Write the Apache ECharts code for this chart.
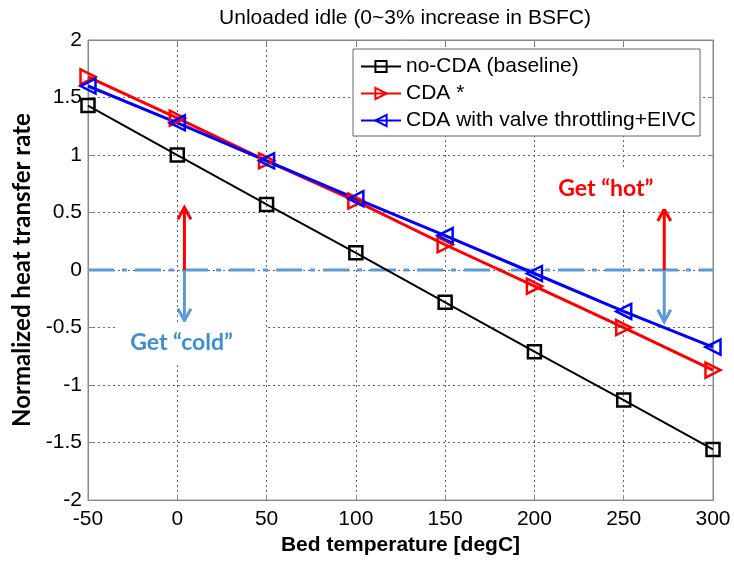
<!DOCTYPE html>
<html>
<head>
<meta charset="utf-8">
<script src="https://cdn.jsdelivr.net/npm/echarts@6/dist/echarts.min.js"></script>
<style>
  html, body { margin: 0; padding: 0; background: #fff; }
  #chart { width: 734px; height: 561px; }
</style>
</head>
<body>
<div id="chart"></div>
<script>
// Bed temperature sweep [degC]
const temps = [-50, 0, 50, 100, 150, 200, 250, 300];
// Normalized heat transfer rate for each strategy
const baseline = [1.43, 1.00, 0.57, 0.15, -0.28, -0.71, -1.13, -1.56];
const cda = [1.68, 1.32, 0.95, 0.60, 0.22, -0.14, -0.50, -0.87];
const cdaThrottle = [1.60, 1.28, 0.95, 0.62, 0.30, -0.03, -0.36, -0.67];

const seriesNames = ['no-CDA (baseline)', 'CDA *', 'CDA with valve throttling+EIVC'];
const xTicks = [-50, 0, 50, 100, 150, 200, 250, 300];
const yTicks = [-2, -1.5, -1, -0.5, 0, 0.5, 1, 1.5, 2];

// Annotation arrows: bed temperature, and where the up / down arrow ends
const arrowTemps = [4, 272.7];
const hotTips = [0.545, 0.53];
const coldTips = [-0.44, -0.45];

// Annotation captions: [temperature, rate, text]
const notes = [
  [8, -0.63, 'Get “cold”'],
  [240, 0.71, 'Get “hot”']
];

const pairs = (vals) => temps.map((t, i) => [t, vals[i]]);

const ARIAL = "'Liberation Sans', Arial, Helvetica, sans-serif";
const CALIBRI = "Lato, 'Open Sans', sans-serif";

const chart = echarts.init(document.getElementById('chart'), null, { renderer: 'canvas' });

function arrowSeries(tips, color) {
  return {
    type: 'custom',
    silent: true,
    z: 4,
    data: arrowTemps.map((t, i) => [t, tips[i]]),
    renderItem: function (params, api) {
      const base = api.coord([api.value(0), 0]);
      const tip = api.coord([api.value(0), api.value(1)]);
      const dir = tip[1] < base[1] ? 1 : -1; // 1 when pointing up
      const hw = 6.5, hl = 12;
      return {
        type: 'group',
        children: [
          { type: 'polyline', shape: { points: [base, tip] },
            style: { stroke: color, lineWidth: 3, fill: null } },
          { type: 'polyline',
            shape: { points: [[tip[0] - hw, tip[1] + dir * hl], tip, [tip[0] + hw, tip[1] + dir * hl]] },
            style: { stroke: color, lineWidth: 3, fill: null, lineJoin: 'miter' } }
        ]
      };
    }
  };
}

const frameLine = { onZero: false, lineStyle: { color: '#888', width: 1 } };
const frameTick = { show: true, inside: true, length: 5, lineStyle: { color: '#888' } };
const gridDots = { show: true, lineStyle: { color: '#666', width: 1, type: [2, 3] } };

const option = {
  backgroundColor: '#fff',
  animation: false,
  title: {
    text: 'Unloaded idle (0~3% increase in BSFC)',
    left: 400,
    textAlign: 'center',
    top: 3,
    textStyle: { fontFamily: ARIAL, fontSize: 21, fontWeight: 'normal', color: '#000' }
  },
  grid: { left: 88, right: 21, top: 40, bottom: 59, show: true, borderColor: '#888', borderWidth: 1 },
  legend: {
    orient: 'vertical',
    left: 353,
    top: 49,
    padding: [7, 4, 5, 7],
    itemGap: 6,
    itemWidth: 40,
    itemHeight: 14,
    backgroundColor: '#fff',
    borderColor: '#666',
    borderWidth: 1,
    borderRadius: 0,
    data: seriesNames,
    textStyle: { fontFamily: ARIAL, fontSize: 21, lineHeight: 21, color: '#000' }
  },
  xAxis: [{
    type: 'value',
    min: xTicks[0], max: xTicks[xTicks.length - 1], interval: 50,
    name: 'Bed temperature [degC]',
    nameLocation: 'middle',
    nameGap: 32,
    nameTextStyle: { fontFamily: ARIAL, fontSize: 21, fontWeight: 'bold', color: '#000' },
    axisLine: frameLine,
    axisTick: frameTick,
    axisLabel: { margin: 9, fontFamily: ARIAL, fontSize: 21, color: '#000' },
    splitLine: gridDots
  }, {
    type: 'value', position: 'top',
    min: xTicks[0], max: xTicks[xTicks.length - 1], interval: 50,
    axisLine: frameLine,
    axisTick: frameTick,
    axisLabel: { show: false },
    splitLine: { show: false }
  }],
  yAxis: [{
    type: 'value',
    min: yTicks[0], max: yTicks[yTicks.length - 1], interval: 0.5,
    name: 'Normalized heat transfer rate',
    nameLocation: 'middle',
    nameGap: 54,
    nameTextStyle: { fontFamily: CALIBRI, fontSize: 24, fontWeight: 'bold', color: '#000' },
    axisLine: Object.assign({ show: true }, frameLine),
    axisTick: frameTick,
    axisLabel: { margin: 6, fontFamily: ARIAL, fontSize: 21, color: '#000' },
    splitLine: gridDots
  }, {
    type: 'value', position: 'right',
    min: yTicks[0], max: yTicks[yTicks.length - 1], interval: 0.5,
    axisLine: Object.assign({ show: true }, frameLine),
    axisTick: frameTick,
    axisLabel: { show: false },
    splitLine: { show: false }
  }],
  series: [
    {
      // zero heat transfer reference
      type: 'line',
      silent: true,
      z: 1,
      symbol: 'none',
      data: [[xTicks[0], 0], [xTicks[xTicks.length - 1], 0]],
      lineStyle: { color: '#5b9bd5', width: 3, type: [26, 8, 5, 8] }
    },
    {
      name: seriesNames[0],
      type: 'line',
      z: 3,
      data: pairs(baseline),
      symbol: 'rect',
      symbolSize: 13,
      showAllSymbol: true,
      lineStyle: { color: '#000', width: 2 },
      itemStyle: { color: 'rgba(255,255,255,0)', borderColor: '#000', borderWidth: 2.5 }
    },
    {
      name: seriesNames[1],
      type: 'line',
      z: 3,
      data: pairs(cda),
      symbol: 'path://M0,0 L10,5 L0,10 Z',
      symbolSize: 15,
      lineStyle: { color: '#ff0000', width: 3 },
      itemStyle: { color: 'rgba(255,255,255,0)', borderColor: '#ff0000', borderWidth: 2.5 }
    },
    {
      name: seriesNames[2],
      type: 'line',
      z: 3,
      data: pairs(cdaThrottle),
      symbol: 'path://M10,0 L0,5 L10,10 Z',
      symbolSize: 15,
      lineStyle: { color: '#0000ff', width: 3 },
      itemStyle: { color: 'rgba(255,255,255,0)', borderColor: '#0000ff', borderWidth: 2.5 }
    },
    arrowSeries(hotTips, '#ff0000'),
    arrowSeries(coldTips, '#5b9bd5'),
    {
      type: 'custom',
      silent: true,
      z: 5,
      data: notes,
      renderItem: function (params, api) {
        const p = api.coord([api.value(0), api.value(1)]);
        const txt = notes[params.dataIndex][2];
        const cold = params.dataIndex === 0;
        return {
          type: 'text',
          style: {
            x: p[0], y: p[1],
            text: txt,
            align: 'center',
            verticalAlign: 'middle',
            fill: cold ? '#3e8ed0' : '#ff0000',
            font: "bold 23px " + CALIBRI,
            backgroundColor: '#fff',
            padding: cold ? [9, 33, 9, 13] : [9, 14, 9, 14]
          }
        };
      }
    }
  ]
};

chart.setOption(option);
</script>
</body>
</html>
